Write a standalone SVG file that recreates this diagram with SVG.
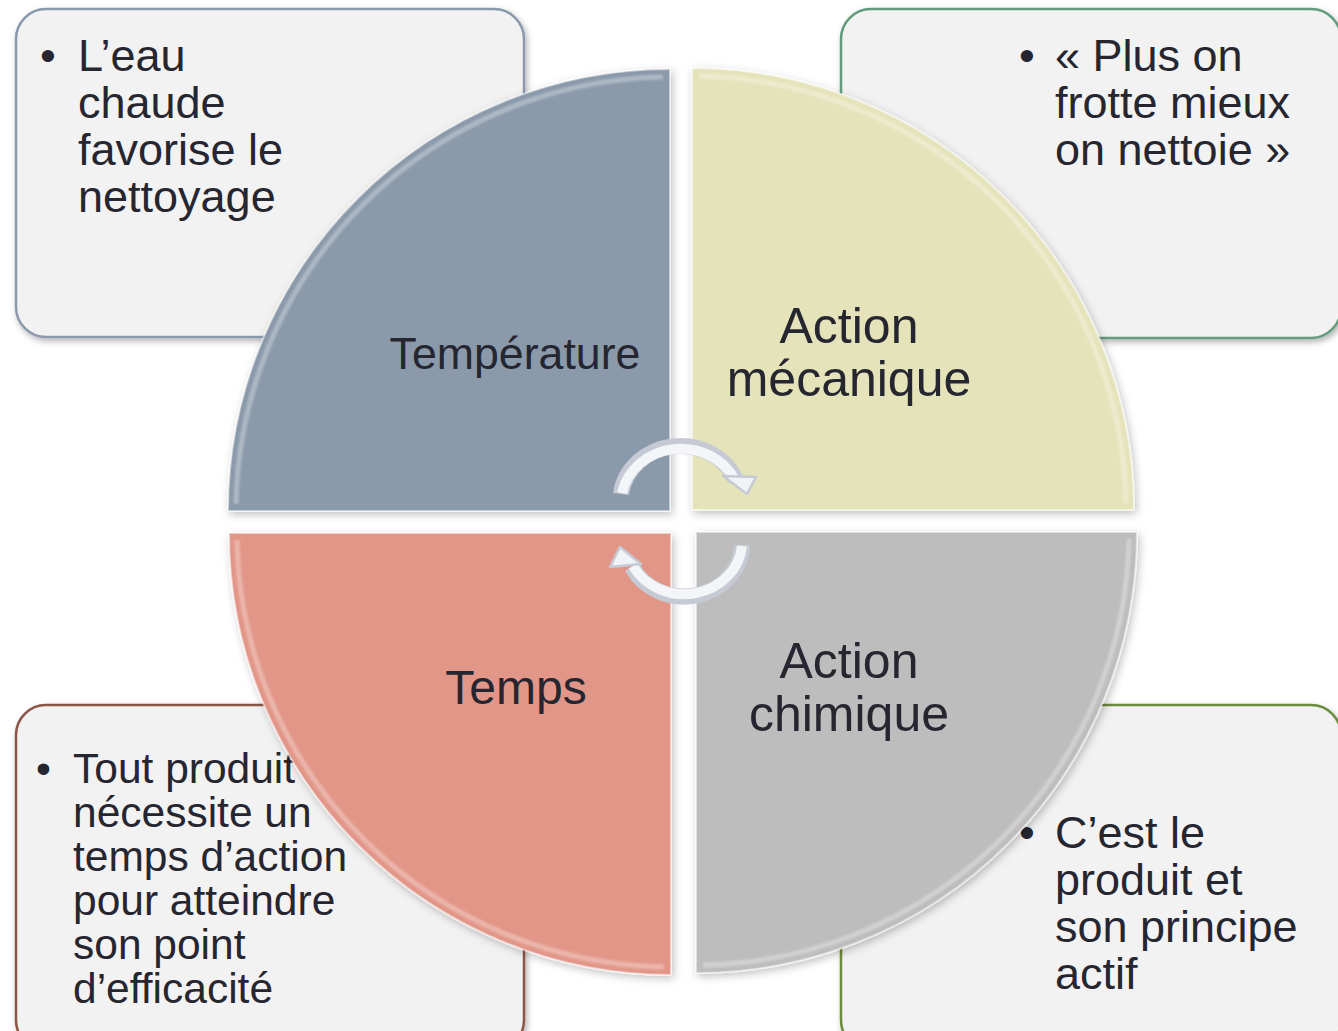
<svg xmlns="http://www.w3.org/2000/svg" width="1338" height="1031" viewBox="0 0 1338 1031">
<defs>
<style>
.box{fill:#f2f2f2;stroke-width:2.5}
.t{font-family:"Liberation Sans",Arial,sans-serif;fill:#262630}
.bx{font-size:45px}
.bl{font-size:42.5px}
.lbl{text-anchor:middle}
.pie{stroke:#ffffff;stroke-opacity:0.5;stroke-width:2}
.hl{fill:none;stroke:#ffffff;stroke-opacity:0.3;stroke-width:5}
.arrOut{fill:none;stroke:#c5cad4;stroke-width:16;stroke-linecap:butt}
.arrIn{fill:none;stroke:#f4f5f8;stroke-width:10;stroke-linecap:butt}
.head{fill:#f2f3f6;stroke:#c5cad4;stroke-width:2.5;stroke-linejoin:round}
</style>
<filter id="sh" x="-10%" y="-10%" width="120%" height="120%">
<feDropShadow dx="2" dy="3" stdDeviation="3" flood-color="#000" flood-opacity="0.3"/>
</filter>
<filter id="sh2" x="-10%" y="-10%" width="120%" height="120%">
<feDropShadow dx="2" dy="3" stdDeviation="4" flood-color="#000" flood-opacity="0.25"/>
</filter>
<filter id="bl" x="-5%" y="-5%" width="110%" height="110%">
<feGaussianBlur stdDeviation="1.2"/>
</filter>
</defs>
<rect width="1338" height="1031" fill="#ffffff"/>

<g id="box-temperature">
<rect class="box" x="16" y="9" width="508" height="328" rx="30" stroke="#8a99ad" filter="url(#sh)"/>
<text class="t bx"><tspan x="40" y="71">•</tspan><tspan x="78" y="71">L’eau</tspan><tspan x="78" y="118">chaude</tspan><tspan x="78" y="165">favorise le</tspan><tspan x="78" y="212">nettoyage</tspan></text>
</g>
<g id="box-mecanique">
<rect class="box" x="841" y="9" width="500" height="329" rx="30" stroke="#639c7c" filter="url(#sh)"/>
<text class="t bx"><tspan x="1019" y="71">•</tspan><tspan x="1055" y="71">« Plus on</tspan><tspan x="1055" y="118">frotte mieux</tspan><tspan x="1055" y="165">on nettoie »</tspan></text>
</g>
<g id="box-temps">
<rect class="box" x="16" y="705" width="508" height="345" rx="30" stroke="#8c5646" filter="url(#sh)"/>
<text class="t bl"><tspan x="36" y="783">•</tspan><tspan x="73" y="783">Tout produit</tspan><tspan x="73" y="827">nécessite un</tspan><tspan x="73" y="871">temps d’action</tspan><tspan x="73" y="915">pour atteindre</tspan><tspan x="73" y="959">son point</tspan><tspan x="73" y="1003">d’efficacité</tspan></text>
</g>
<g id="box-chimique">
<rect class="box" x="841" y="705" width="500" height="345" rx="30" stroke="#6e8c3e" filter="url(#sh)"/>
<text class="t bx"><tspan x="1019" y="848">•</tspan><tspan x="1055" y="848">C’est le</tspan><tspan x="1055" y="895">produit et</tspan><tspan x="1055" y="942">son principe</tspan><tspan x="1055" y="989">actif</tspan></text>
</g>

<g id="pie-temperature">
<path class="pie" d="M670 511 L228 511 A442 442 0 0 1 670 69 Z" fill="#8a9aab" filter="url(#sh2)"/>
<path class="hl" d="M236 504 A435 435 0 0 1 663 77" filter="url(#bl)"/>
<text class="t lbl" x="515" y="369" font-size="44.7">Température</text>
</g>
<g id="pie-mecanique">
<path class="pie" d="M692 510 L692 68 A442 442 0 0 1 1134 510 Z" fill="#e4e3b9" filter="url(#sh2)"/>
<path class="hl" d="M699 76 A435 435 0 0 1 1126 503" filter="url(#bl)"/>
<text class="t lbl" font-size="50"><tspan x="849" y="343">Action</tspan><tspan x="849" y="396">mécanique</tspan></text>
</g>
<g id="pie-temps">
<path class="pie" d="M671 533 L671 975 A442 442 0 0 1 229 533 Z" fill="#e29688" filter="url(#sh2)"/>
<path class="hl" d="M664 967 A435 435 0 0 1 237 540" filter="url(#bl)"/>
<text class="t lbl" x="516" y="704" font-size="48">Temps</text>
</g>
<g id="pie-chimique">
<path class="pie" d="M696 532 L1137 532 A441 441 0 0 1 696 973 Z" fill="#bdbdbd" filter="url(#sh2)"/>
<path class="hl" d="M1129 539 A434 434 0 0 1 703 965" filter="url(#bl)"/>
<text class="t lbl" font-size="50"><tspan x="849" y="678">Action</tspan><tspan x="849" y="731">chimique</tspan></text>
</g>

<g id="connectors">
<g id="arrow-top">
<path class="arrOut" d="M621 494 A60 55 0 0 1 736 480"/>
<path class="arrIn" d="M622 493 A60 55 0 0 1 735 480"/>
<polygon class="head" points="723,476 756,477 747,494"/>
</g>
<g id="arrow-bottom">
<path class="arrOut" d="M742 545 A58 53 0 0 1 632 567"/>
<path class="arrIn" d="M742 546 A58 53 0 0 1 633 566"/>
<polygon class="head" points="620,547 641,564 610,567"/>
</g>
</g>
</svg>
